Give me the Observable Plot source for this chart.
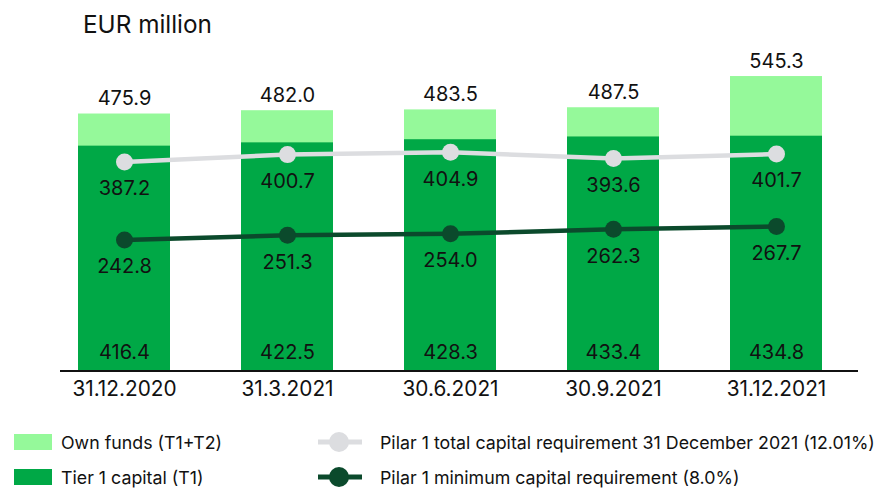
<!DOCTYPE html>
<html>
<head>
<meta charset="utf-8">
<script src="https://cdn.jsdelivr.net/npm/d3@7"></script>
<script src="https://cdn.jsdelivr.net/npm/@observablehq/plot@0.6"></script>
<style>
  html, body { margin: 0; padding: 0; background: #fff; }
  body { width: 878px; height: 488px; position: relative; overflow: hidden; font-family: Inter, "Noto Sans", sans-serif; color: #111; }
  #title { position: absolute; left: 83px; top: 10px; font-size: 24.3px; line-height: 28px; }
  #chart { position: absolute; left: 0; top: 50px; }
  .leg { position: absolute; display: flex; align-items: center; font-size: 17.8px; color: #111; white-space: nowrap; }
  .sw { width: 38px; height: 16px; margin-right: 9px; }
</style>
</head>
<body>
<div id="title">EUR million</div>
<div id="chart"></div>
<div class="leg" style="left:14px; top:430px; height:24px;"><div class="sw" style="background:#95f99a"></div>Own funds (T1+T2)</div>
<div class="leg" style="left:14px; top:465px; height:24px;"><div class="sw" style="background:#00a846"></div>Tier 1 capital (T1)</div>
<div class="leg" style="left:317px; top:430px; height:24px;"><svg width="46" height="24" style="margin-right:17px"><line x1="1" y1="12" x2="45" y2="12" stroke="#dcdde0" stroke-width="5"/><circle cx="22" cy="12" r="10" fill="#dcdde0"/></svg>Pilar 1 total capital requirement 31 December 2021 (12.01%)</div>
<div class="leg" style="left:317px; top:465px; height:24px;"><svg width="46" height="24" style="margin-right:17px"><line x1="1" y1="12" x2="45" y2="12" stroke="#0b4a2c" stroke-width="5"/><circle cx="22" cy="12" r="10" fill="#0b4a2c"/></svg>Pilar 1 minimum capital requirement (8.0%)</div>
<script>
const dates = ["31.12.2020", "31.3.2021", "30.6.2021", "30.9.2021", "31.12.2021"];
const ownFunds = [475.9, 482.0, 483.5, 487.5, 545.3];
const tier1 = [416.4, 422.5, 428.3, 433.4, 434.8];
const pilarTotal = [387.2, 400.7, 404.9, 393.6, 401.7];
const pilarMin = [242.8, 251.3, 254.0, 262.3, 267.7];

const rows = dates.map((d, i) => ({date: d, own: ownFunds[i], t1: tier1[i], tot: pilarTotal[i], min: pilarMin[i]}));
const fmt = d3.format(".1f");
const F = 20;

const chart = Plot.plot({
  width: 878,
  height: 360,
  marginLeft: 60,
  marginRight: 20,
  marginTop: 0,
  marginBottom: 40,
  style: {fontFamily: "Inter, 'Noto Sans', sans-serif", color: "#111", background: "transparent"},
  x: {domain: dates, paddingInner: 0.4366, paddingOuter: 0.162, align: 0.341, label: null},
  y: {domain: [0, 590], range: [320.5, 320.5 - 0.54 * 590], axis: null},
  marks: [
    Plot.barY(rows, {x: "date", y: "own", fill: "#95f99a"}),
    Plot.barY(rows, {x: "date", y: "t1", fill: "#00a846"}),
    Plot.ruleY([0], {stroke: "#111", strokeWidth: 2}),
    Plot.axisX({tickSize: 0, tickPadding: 11, fontSize: 20.8, fill: "#111", label: null}),
    Plot.line(rows, {x: "date", y: "tot", stroke: "#dcdde0", strokeWidth: 4.5}),
    Plot.dot(rows, {x: "date", y: "tot", r: 8.5, fill: "#dcdde0"}),
    Plot.line(rows, {x: "date", y: "min", stroke: "#0b4a2c", strokeWidth: 4.5}),
    Plot.dot(rows, {x: "date", y: "min", r: 8.5, fill: "#0b4a2c"}),
    Plot.text(rows, {x: "date", y: "own", text: d => fmt(d.own), dy: -15, lineAnchor: "middle", fontSize: F, fill: "#111"}),
    Plot.text(rows, {x: "date", y: "tot", text: d => fmt(d.tot), dy: 27, lineAnchor: "middle", fontSize: F, fill: "#111"}),
    Plot.text(rows, {x: "date", y: "min", text: d => fmt(d.min), dy: 27, lineAnchor: "middle", fontSize: F, fill: "#111"}),
    Plot.text(rows, {x: "date", y: 0, text: d => fmt(d.t1), dy: -18, lineAnchor: "middle", fontSize: F, fill: "#111"})
  ]
});
document.getElementById("chart").appendChild(chart);
</script>
</body>
</html>
